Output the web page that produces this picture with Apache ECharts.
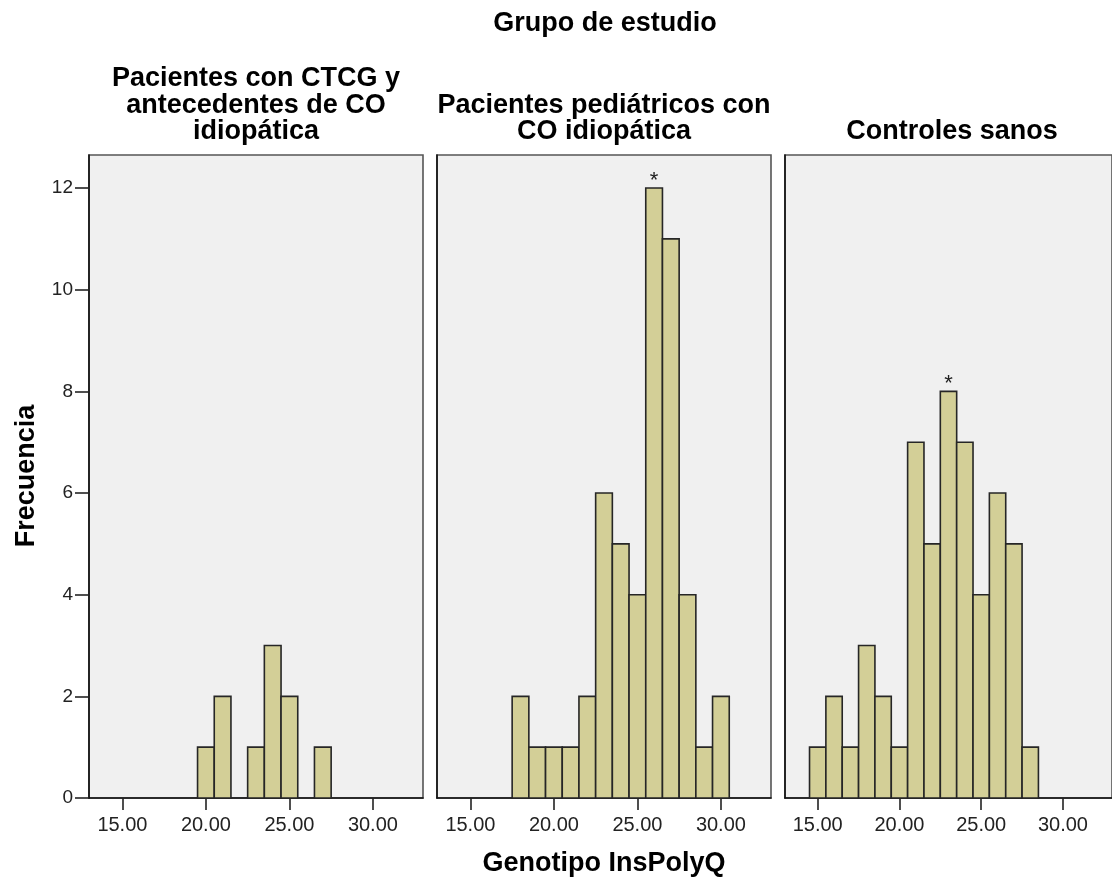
<!DOCTYPE html>
<html>
<head>
<meta charset="utf-8">
<script src="https://cdn.jsdelivr.net/npm/echarts@6/dist/echarts.min.js"></script>
<style>
  html, body { margin: 0; padding: 0; background: #ffffff; }
  #chart { width: 1112px; height: 878px; }
</style>
</head>
<body>
<div id="chart"></div>
<script>
// Histogram of InsPolyQ genotype, one panel per study group (bins of width 1)
const mainTitle = 'Grupo de estudio';
const xTitle = 'Genotipo InsPolyQ';
const yTitle = 'Frecuencia';
const panelTitles = [
  'Pacientes con CTCG y\nantecedentes de CO\nidiopática',
  'Pacientes pediátricos con\nCO idiopática',
  'Controles sanos'
];

// Bin centres and frequencies for each group
const binsCTCG = [20, 21, 22, 23, 24, 25, 26, 27];
const countsCTCG = [1, 2, 0, 1, 3, 2, 0, 1];

const binsPediatric = [18, 19, 20, 21, 22, 23, 24, 25, 26, 27, 28, 29, 30];
const countsPediatric = [2, 1, 1, 1, 2, 6, 5, 4, 12, 11, 4, 1, 2];

const binsControls = [15, 16, 17, 18, 19, 20, 21, 22, 23, 24, 25, 26, 27, 28];
const countsControls = [1, 2, 1, 3, 2, 1, 7, 5, 8, 7, 4, 6, 5, 1];

// Bins flagged with an asterisk in each group
const starredBins = [[], [26], [23]];

// Axis ticks
const xTicks = [15, 20, 25, 30];
const yTicks = [0, 2, 4, 6, 8, 10, 12];
const xMin = 13, xMax = 33;
const yMin = 0, yMax = 12.65;

const groups = [
  { bins: binsCTCG, counts: countsCTCG, stars: starredBins[0] },
  { bins: binsPediatric, counts: countsPediatric, stars: starredBins[1] },
  { bins: binsControls, counts: countsControls, stars: starredBins[2] }
];

const FONT = "'Liberation Sans', Arial, sans-serif";
const BAR_FILL = '#d3cf97';
const BAR_STROKE = '#262626';
const PANEL_BG = '#f0f0f0';

const panelLeft = [89, 437, 785];
const panelWidth = 334;
const panelTop = 155;
const panelHeight = 643;

const grids = [], xAxes = [], yAxes = [], series = [];

groups.forEach(function (g, i) {
  grids.push({
    left: panelLeft[i], top: panelTop, width: panelWidth, height: panelHeight,
    show: true, backgroundColor: PANEL_BG, borderColor: '#555', borderWidth: 1.6
  });
  xAxes.push({
    gridIndex: i, type: 'value', min: xMin, max: xMax,
    axisLine: { show: true, onZero: false, lineStyle: { color: '#111', width: 1.6 } },
    axisTick: { show: true, customValues: xTicks, length: 12, lineStyle: { color: '#222', width: 1.6 } },
    axisLabel: { show: true, customValues: xTicks, margin: 17, color: '#222', fontFamily: FONT, fontSize: 20,
      formatter: function (v) { return v.toFixed(2); } },
    splitLine: { show: false }
  });
  yAxes.push({
    gridIndex: i, type: 'value', min: yMin, max: yMax,
    axisLine: { show: true, lineStyle: { color: '#111', width: 1.6 } },
    axisTick: { show: i === 0, customValues: yTicks, length: 14, lineStyle: { color: '#222', width: 1.6 } },
    axisLabel: { show: i === 0, customValues: yTicks, margin: 16, color: '#222', fontFamily: FONT, fontSize: 19 },
    splitLine: { show: false }
  });
  series.push({
    type: 'custom',
    xAxisIndex: i, yAxisIndex: i,
    data: g.bins.map(function (b, k) { return [b, g.counts[k], g.stars.indexOf(b) >= 0 ? 1 : 0]; }),
    renderItem: function (params, api) {
      const x = api.value(0), v = api.value(1), star = api.value(2);
      if (!v) return null;
      const p0 = api.coord([x - 0.5, 0]);
      const p1 = api.coord([x + 0.5, v]);
      const children = [{
        type: 'rect',
        shape: { x: p0[0], y: p1[1], width: p1[0] - p0[0], height: p0[1] - p1[1] },
        style: { fill: BAR_FILL, stroke: BAR_STROKE, lineWidth: 1.6 }
      }];
      if (star) {
        children.push({
          type: 'text',
          style: {
            text: '*', x: (p0[0] + p1[0]) / 2, y: p1[1] + 4,
            textAlign: 'center', textVerticalAlign: 'bottom',
            font: '22px ' + FONT, fill: '#222'
          }
        });
      }
      return { type: 'group', children: children };
    }
  });
});

const graphics = [
  { type: 'text', style: { text: mainTitle, x: 605, y: 24, textAlign: 'center', textVerticalAlign: 'middle',
      font: 'bold 27px ' + FONT, fill: '#000' } },
  { type: 'text', style: { text: xTitle, x: 604, y: 864, textAlign: 'center', textVerticalAlign: 'middle',
      font: 'bold 27px ' + FONT, fill: '#000' } },
  { type: 'text', x: 27, y: 476, rotation: Math.PI / 2,
    style: { text: yTitle, x: 0, y: 0, textAlign: 'center', textVerticalAlign: 'middle',
      font: 'bold 27px ' + FONT, fill: '#000' } }
];
panelTitles.forEach(function (t, i) {
  graphics.push({ type: 'text', style: {
    text: t, x: panelLeft[i] + panelWidth / 2, y: 145,
    textAlign: 'center', textVerticalAlign: 'bottom', lineHeight: 26.5,
    font: 'bold 27px ' + FONT, fill: '#000'
  } });
});

const chart = echarts.init(document.getElementById('chart'), null, { renderer: 'canvas' });
chart.setOption({
  backgroundColor: '#ffffff',
  animation: false,
  grid: grids,
  xAxis: xAxes,
  yAxis: yAxes,
  series: series,
  graphic: graphics
});
</script>
</body>
</html>
